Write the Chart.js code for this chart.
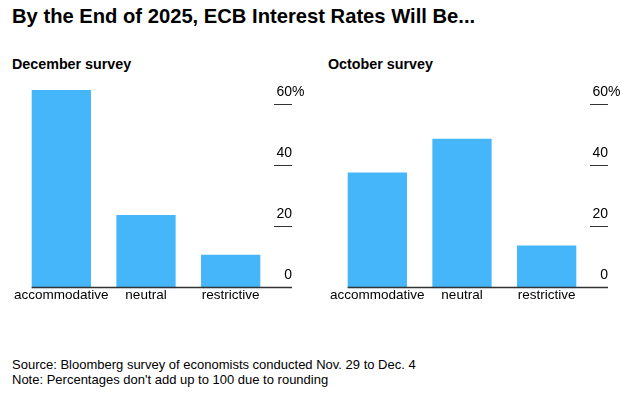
<!DOCTYPE html>
<html>
<head>
<meta charset="utf-8">
<script src="https://cdn.jsdelivr.net/npm/chart.js"></script>
<style>
  body { margin: 0; width: 636px; height: 397px; background: #fff; position: relative; overflow: hidden;
         font-family: "Liberation Sans", Arial, sans-serif; color: #000; }
  .title { position: absolute; left: 12px; top: 4px; font-size: 20.2px; font-weight: bold; line-height: 24px; white-space: nowrap; }
  .sub { position: absolute; top: 55px; font-size: 14.3px; font-weight: bold; line-height: 18px; white-space: nowrap; }
  .foot { position: absolute; left: 12px; top: 357px; font-size: 13px; line-height: 15px; white-space: nowrap; }
  .box { position: absolute; top: 70px; width: 316px; height: 250px; }
</style>
</head>
<body>
<div class="title">By the End of 2025, ECB Interest Rates Will Be...</div>
<div class="sub" style="left:12px">December survey</div>
<div class="sub" style="left:328px">October survey</div>
<div class="box" style="left:0"><canvas id="dec-chart" width="316" height="250"></canvas></div>
<div class="box" style="left:316px"><canvas id="oct-chart" width="316" height="250"></canvas></div>
<div class="foot">Source: Bloomberg survey of economists conducted Nov. 29 to Dec. 4<br>Note: Percentages don't add up to 100 due to rounding</div>

<script>
// survey answers, share of economists (%)
const categories = ['accommodative', 'neutral', 'restrictive'];
const decemberValues = [65, 24, 11];
const octoberValues = [38, 49, 14];
const yTicks = [0, 20, 40, 60];

const barColor = '#45b6fa';
const fontFamily = '"Liberation Sans", Arial, sans-serif';

// draws the short tick marks + labels on the right and the baseline under the bars
const rightTicks = {
  id: 'rightTicks',
  afterDatasetsDraw(chart) {
    const ctx = chart.ctx;
    const y = chart.scales.y;
    const area = chart.chartArea;
    const bar0 = chart.getDatasetMeta(0).data[0];
    const tickStart = Math.round(area.right) + 1;
    const tickEnd = tickStart + 18;

    ctx.save();
    ctx.font = '14px ' + fontFamily;
    ctx.fillStyle = '#000';
    ctx.textBaseline = 'alphabetic';
    yTicks.forEach((v) => {
      const py = Math.round(y.getPixelForValue(v)) - 0.5;
      if (v !== 0) {
        ctx.strokeStyle = '#333';
        ctx.lineWidth = 1;
        ctx.beginPath();
        ctx.moveTo(tickStart, py);
        ctx.lineTo(tickEnd, py);
        ctx.stroke();
      }
      ctx.textAlign = 'right';
      ctx.fillText(String(v), tickEnd, py - 9);
      if (v === yTicks[yTicks.length - 1]) {
        ctx.textAlign = 'left';
        ctx.fillText('%', tickEnd, py - 9);
      }
    });

    // baseline
    const by = Math.round(y.getPixelForValue(0)) - 0.5;
    ctx.strokeStyle = '#333';
    ctx.lineWidth = 1.5;
    ctx.beginPath();
    ctx.moveTo(bar0.x - bar0.width / 2, by);
    ctx.lineTo(tickEnd, by);
    ctx.stroke();
    ctx.restore();
  }
};

function makeSurveyChart(canvasId, values) {
  const ctx = document.getElementById(canvasId).getContext('2d');
  return new Chart(ctx, {
    type: 'bar',
    data: {
      labels: categories,
      datasets: [{
        data: values,
        backgroundColor: barColor,
        borderWidth: 0,
        barPercentage: 0.7,
        categoryPercentage: 1
      }]
    },
    options: {
      responsive: false,
      animation: false,
      layout: { padding: { top: 17, left: 19, right: 43, bottom: 17.5 } },
      plugins: { legend: { display: false }, tooltip: { enabled: false } },
      scales: {
        x: {
          grid: { display: false, drawTicks: false },
          border: { display: false },
          ticks: {
            color: '#000', padding: -1, autoSkip: false, maxRotation: 0,
            font: { size: 13.5, family: fontFamily }
          }
        },
        y: {
          display: false,
          min: 0,
          max: 66
        }
      }
    },
    plugins: [rightTicks]
  });
}

makeSurveyChart('dec-chart', decemberValues);
makeSurveyChart('oct-chart', octoberValues);
</script>
</body>
</html>
